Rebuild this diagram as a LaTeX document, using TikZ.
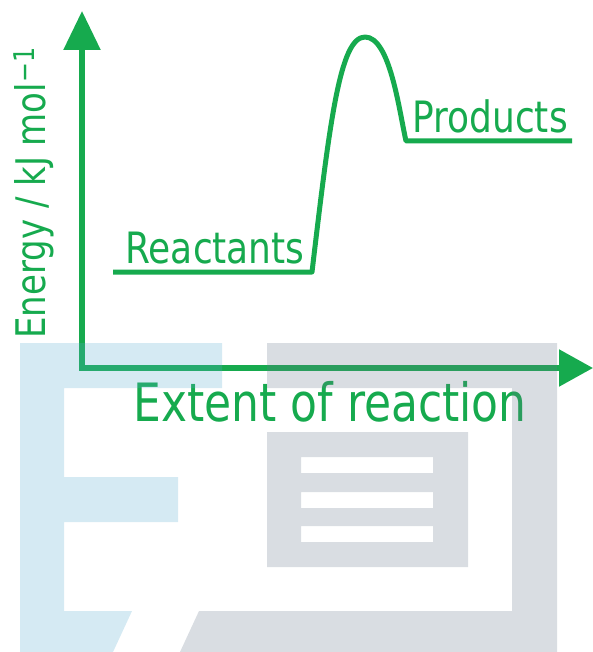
\documentclass[tikz,border=0pt]{standalone}
\usepackage{fontspec}
\setmainfont{DejaVu Sans}
\usetikzlibrary{arrows.meta}
\definecolor{energyGreen}{RGB}{22,170,78}
\definecolor{markBlue}{RGB}{87,171,207}
\definecolor{markGrey}{RGB}{103,119,139}
\newcommand{\tallText}[1]{\scalebox{1}[1.2]{#1}}

\begin{document}
\begin{tikzpicture}[x=1pt,y=-1pt,
      axis/.style={draw=energyGreen,line width=5.5pt,{Triangle[length=39pt,width=36pt]}-{Triangle[length=34pt,width=36pt]}},
      level/.style={draw=energyGreen,line width=5pt,line join=round},
      lbl/.style={text=energyGreen,font=\fontsize{36}{40}\selectfont,inner sep=0pt,anchor=base},
      wmark/.style={draw=none,fill opacity=0.25}]
    \useasboundingbox (0,0) rectangle (593,652);
    % axes
    \coordinate (origin) at (82,368);
    \coordinate (ytip) at (82,11);
    \coordinate (xtip) at (593,368);
    \draw[axis] (ytip) -- (origin) -- (xtip);
    % energy profile
    \coordinate (r1) at (113,272);
    \coordinate (r2) at (312,272);
    \coordinate (peak) at (365,37);
    \coordinate (p1) at (406,141);
    \coordinate (p2) at (572,141);
    \draw[level] (r1) -- (r2) .. controls (330,120) and (340,37) .. (peak)
      .. controls (390,37) and (399,110) .. (p1) -- (p2);
    \node[lbl] (react) at (215,263) {\tallText{Reactants}};
    \node[lbl] (prod) at (490,133) {\tallText{Products}};
    \node[lbl,font=\fontsize{44}{48}\selectfont] (extent) at (330,421) {\tallText{Extent of reaction}};
    \node[lbl,rotate=90,font=\fontsize{34}{38}\selectfont] (energy) at (45,193) {\tallText{Energy / kJ mol\textsuperscript{−1}}};
    % watermark
    \fill[wmark,markBlue] (20,343) -- (222,343) -- (222,388) -- (64,388) -- (64,477) -- (178,477)
      -- (178,522) -- (64,522) -- (64,611) -- (132,611) -- (113,652) -- (20,652) -- cycle;
    \fill[wmark,markGrey] (267,343) -- (557,343) -- (557,652) -- (180,652) -- (199,611)
      -- (512,611) -- (512,388) -- (267,388) -- cycle;
    \fill[wmark,markGrey,even odd rule] (267,432) rectangle (468,567)
      (301,457) rectangle (433,473) (301,492) rectangle (433,508) (301,526) rectangle (433,542);
\end{tikzpicture}
\end{document}
